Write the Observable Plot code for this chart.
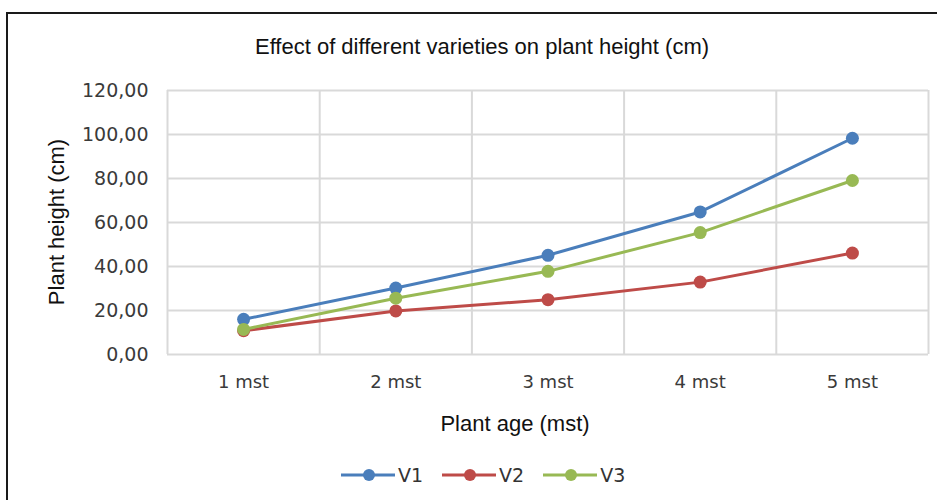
<!DOCTYPE html>
<html><head><meta charset="utf-8">
<script src="https://cdn.jsdelivr.net/npm/d3@7"></script>
<script src="https://cdn.jsdelivr.net/npm/@observablehq/plot@0.6"></script>
<style>
body{margin:0;background:#fff;}
#wrap{position:relative;width:937px;height:500px;overflow:hidden;background:#fff;}
#frame{position:absolute;left:6px;top:12px;width:980px;height:540px;border:2px solid #1a1a1a;box-sizing:border-box;}
#title{position:absolute;left:0;width:964px;top:34px;text-align:center;font:22px "Liberation Sans",Arial,sans-serif;color:#111;white-space:nowrap;}
#chart{position:absolute;left:0;top:70px;}
#xtitle{position:absolute;left:315px;width:400px;top:411px;text-align:center;font:22px "Liberation Sans",Arial,sans-serif;color:#111;}
#ytitle{position:absolute;left:57px;top:222px;transform:translate(-50%,-50%) rotate(-90deg);font:22px "Liberation Sans",Arial,sans-serif;color:#111;white-space:nowrap;}
#legend{position:absolute;left:341px;top:464px;display:flex;align-items:center;font:19px "DejaVu Sans",sans-serif;color:#333;}
#legend .item{display:flex;align-items:center;margin-right:19px;}
#legend svg{display:block;margin-right:3px;}
</style>
</head><body>
<div id="wrap">
  <div id="frame"></div>
  <div id="title">Effect of different varieties on plant height (cm)</div>
  <div id="chart"></div>
  <div id="ytitle">Plant height (cm)</div>
  <div id="xtitle">Plant age (mst)</div>
  <div id="legend"></div>
</div>
<script>
const ages = ["1 mst", "2 mst", "3 mst", "4 mst", "5 mst"];
const varieties = ["V1", "V2", "V3"];
const v1 = [16.0, 30.2, 45.1, 64.8, 98.3];
const v2 = [10.8, 19.8, 24.9, 32.9, 46.1];
const v3 = [11.4, 25.6, 37.8, 55.4, 79.1];
const colors = ["#4a7ebb", "#be4b48", "#98b954"];
const yTicks = [0, 20, 40, 60, 80, 100, 120];

const rows = [];
[v1, v2, v3].forEach((s, k) => s.forEach((v, i) => rows.push({age: i + 1, variety: varieties[k], height: v})));
const xPos = ages.map((_, i) => i + 1);
const bounds = d3.range(0, ages.length + 1).map(i => i + 0.5);
const fmt = d => d.toFixed(2).replace(".", ",");

const chart = Plot.plot({
  width: 937, height: 380,
  marginTop: 20, marginBottom: 96, marginLeft: 167, marginRight: 9,
  style: {fontFamily: "DejaVu Sans, sans-serif", fontSize: "17px", color: "#3a3a3a", background: "transparent", overflow: "visible"},
  x: {domain: [0.5, ages.length + 0.5], axis: null},
  y: {domain: [0, 120], axis: null},
  color: {domain: varieties, range: colors},
  marks: [
    Plot.ruleY(yTicks, {stroke: "#d9d9d9", strokeWidth: 2}),
    Plot.ruleX(bounds, {stroke: "#d9d9d9", strokeWidth: 2}),
    Plot.line(rows, {x: "age", y: "height", z: "variety", stroke: "variety", strokeWidth: 3}),
    Plot.dot(rows, {x: "age", y: "height", fill: "variety", r: 6.5}),
    Plot.axisY(yTicks, {tickFormat: fmt, tickSize: 0, tickPadding: 19, fontSize: 19, label: null}),
    Plot.axisX(xPos, {tickFormat: i => ages[i - 1], tickSize: 0, tickPadding: 21, fontSize: 18, label: null})
  ]
});
document.getElementById("chart").appendChild(chart);

const leg = document.getElementById("legend");
varieties.forEach((v, k) => {
  const item = document.createElement("div");
  item.className = "item";
  item.innerHTML = `<svg width="54" height="20"><line x1="0" y1="10" x2="54" y2="10" stroke="${colors[k]}" stroke-width="3"/><circle cx="28" cy="10" r="6" fill="${colors[k]}"/></svg><span>${v}</span>`;
  leg.appendChild(item);
});
</script>
</body></html>
